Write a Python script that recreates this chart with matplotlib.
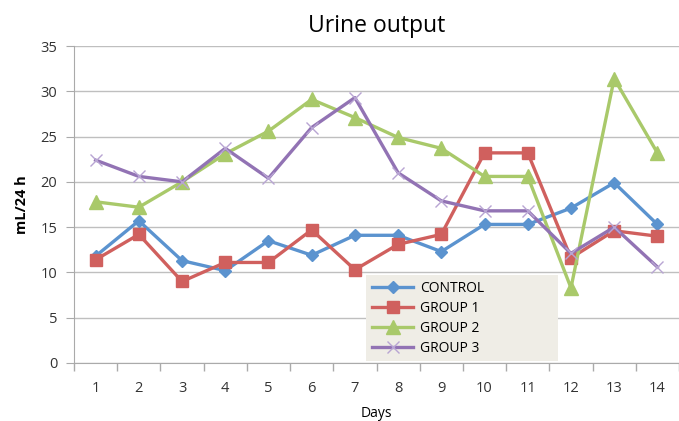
import matplotlib
matplotlib.use("Agg")
import matplotlib.pyplot as plt
import numpy as np

days = list(range(1, 15))
control = [11.8, 15.7, 11.3, 10.2, 13.5, 11.9, 14.1, 14.1, 12.3, 15.3, 15.3, 17.1, 19.9, 15.3]
group1 = [11.4, 14.2, 9.0, 11.1, 11.1, 14.7, 10.3, 13.1, 14.2, 23.2, 23.2, 11.6, 14.6, 14.0]
group2 = [17.8, 17.2, 20.0, 23.1, 25.6, 29.1, 27.1, 24.9, 23.7, 20.6, 20.6, 8.3, 31.4, 23.2]
group3 = [22.4, 20.6, 20.0, 23.7, 20.4, 26.0, 29.3, 21.0, 17.9, 16.8, 16.8, 12.1, 15.0, 10.6]
series_names = ["CONTROL", "GROUP 1", "GROUP 2", "GROUP 3"]
yticks = [0, 5, 10, 15, 20, 25, 30, 35]

plt.rcParams['font.family'] = ['Open Sans', 'DejaVu Sans']

fig = plt.figure(figsize=(6.79, 4.21), dpi=100)
ax = fig.add_axes([74/679, 58/421, 605/679, 317/421])

styles = [
    dict(color="#5B93CF", marker="D", ms=6.5, mec="#5B93CF"),
    dict(color="#D0605E", marker="s", ms=9, mec="#D0605E"),
    dict(color="#A9C96A", marker="^", ms=10, mec="#A9C96A"),
    dict(color="#9273B4", marker="x", ms=9, mec="#B8A5D3", mew=1.0),
]
for vals, name, st in zip([control, group1, group2, group3], series_names, styles):
    ax.plot(days, vals, lw=2.4, label=name, **st)

ax.set_xlim(0.5, 14.5)
ax.set_ylim(0, 35)
ax.set_yticks(yticks)
ax.set_xticks(days)
ax.set_xticks(np.arange(0.5, 15, 1), minor=True)
ax.tick_params(axis='x', which='major', length=0, pad=13, labelsize=10.5, colors="#333333")
ax.tick_params(axis='x', which='minor', length=6, color="#AAAAAA", width=1)
ax.tick_params(axis='y', length=6, color="#AAAAAA", pad=6, labelsize=10.5, labelcolor="#333333")
ax.grid(axis='y', color="#BFBFBF", lw=1)
ax.set_axisbelow(True)
for s in ["top", "right"]:
    ax.spines[s].set_visible(False)
ax.spines["left"].set_color("#AAAAAA")
ax.spines["bottom"].set_color("#AAAAAA")

ax.set_title("Urine output", fontsize=16.5, pad=10)
ax.set_ylabel("mL/24 h", fontsize=10.5, fontweight="bold", labelpad=8)
ax.set_xlabel("Days", fontsize=10, labelpad=7)

leg = ax.legend(loc="lower left", bbox_to_anchor=(0.483, 0.006, 0.317, 0.24), mode="expand",
                frameon=True, fancybox=False, facecolor="#EFEDE6", edgecolor="none",
                framealpha=1, fontsize=10, handlelength=3, handletextpad=0.5,
                labelspacing=0.35, borderaxespad=0)
fig.savefig("out.png", dpi=100)
